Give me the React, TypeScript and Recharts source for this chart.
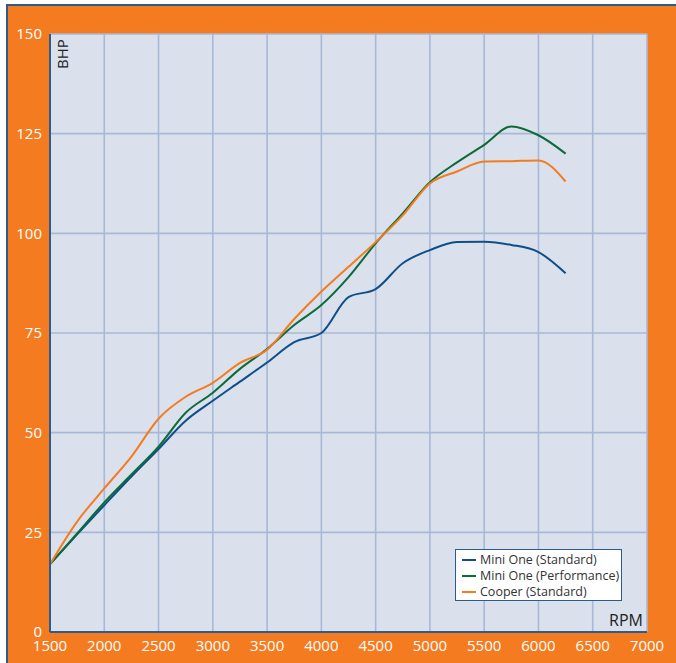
import React from "react";
import { LineChart, Line, XAxis, YAxis, CartesianGrid } from "recharts";

const rpm = [1500, 1750, 2000, 2250, 2500, 2750, 3000, 3250, 3500, 3750, 4000, 4250, 4500, 4750, 5000, 5250, 5500, 5750, 6000, 6250];
const miniOneStandard = [17, 24.5, 31.8, 39, 45.9, 53, 58, 62.8, 67.6, 72.7, 75, 84, 86, 92.5, 95.8, 97.8, 97.9, 97.1, 95.3, 90];
const miniOnePerformance = [17, 24.7, 32.5, 39.5, 46.5, 55, 60, 66, 71, 77, 82, 89, 97.5, 105, 112.8, 117.8, 122.2, 126.8, 124.6, 120];
const cooperStandard = [17, 27.7, 36, 44, 53.5, 59, 62.5, 67.5, 70.8, 78.5, 85.4, 91.6, 97.8, 104.5, 112.5, 115.5, 118, 118.1, 118.3, 113];

const xTicks = [1500, 2000, 2500, 3000, 3500, 4000, 4500, 5000, 5500, 6000, 6500, 7000];
const yTicks = [0, 25, 50, 75, 100, 125, 150];

const seriesNames = ["Mini One (Standard)", "Mini One (Performance)", "Cooper (Standard)"];
const seriesColors = ["#0d4f8b", "#0b6b3a", "#f47c20"];

const data = rpm.map((r, i) => ({
  rpm: r,
  s0: miniOneStandard[i],
  s1: miniOnePerformance[i],
  s2: cooperStandard[i],
}));

const FONT = "'Open Sans', 'Noto Sans', sans-serif";
const FRAME = "#2b5c8c";

function ChartLegend() {
  return (
    <div
      style={{
        position: "absolute",
        left: 455,
        top: 549,
        boxSizing: "border-box",
        width: 167,
        height: 52,
        background: "#ffffff",
        border: `1.5px solid ${FRAME}`,
        padding: "2px 0 0 6px",
        fontFamily: FONT,
        fontSize: 12.5,
        color: "#333",
        lineHeight: "16px",
      }}
    >
      {seriesNames.map((n, i) => (
        <div key={n} style={{ display: "flex", alignItems: "center" }}>
          <span style={{ display: "inline-block", width: 14, height: 2.5, background: seriesColors[i], marginRight: 4 }} />
          <span>{n}</span>
        </div>
      ))}
    </div>
  );
}

export default function App() {
  return (
    <div style={{ position: "absolute", left: 0, top: 0, width: 676, height: 663, background: "#ffffff" }}>
      <div
        style={{
          position: "absolute",
          left: 6,
          top: 4,
          width: 670,
          height: 659,
          boxSizing: "border-box",
          background: "#f47b20",
          borderTop: `2px solid ${FRAME}`,
          borderLeft: `2px solid ${FRAME}`,
        }}
      />
      <div style={{ position: "absolute", left: 0, top: 0 }}>
        <LineChart width={676} height={663} data={data} margin={{ top: 34, right: 29, bottom: 6, left: 6 }}>
          <CartesianGrid xAxisId="b" yAxisId="l" fill="#dae0ec" stroke="#a8b9d7" strokeWidth={1.6} />
          <XAxis
            xAxisId="b"
            dataKey="rpm"
            type="number"
            domain={[1500, 7000]}
            ticks={xTicks}
            interval={0}
            height={25}
            tickLine={false}
            axisLine={{ stroke: FRAME, strokeWidth: 2 }}
            tick={{ fill: "#ffffff", fontSize: 15, fontFamily: FONT }}
          />
          <XAxis
            xAxisId="t"
            orientation="top"
            dataKey="rpm"
            type="number"
            domain={[1500, 7000]}
            ticks={xTicks}
            height={0}
            tick={false}
            tickLine={false}
            axisLine={{ stroke: FRAME, strokeWidth: 2 }}
          />
          <YAxis
            yAxisId="l"
            type="number"
            domain={[0, 150]}
            ticks={yTicks}
            interval={0}
            width={44}
            tickLine={false}
            axisLine={{ stroke: FRAME, strokeWidth: 2 }}
            tick={{ fill: "#ffffff", fontSize: 15, fontFamily: FONT }}
          />
          <YAxis
            yAxisId="r"
            orientation="right"
            type="number"
            domain={[0, 150]}
            ticks={yTicks}
            width={0}
            tick={false}
            tickLine={false}
            axisLine={{ stroke: FRAME, strokeWidth: 2 }}
          />
          {["s0", "s1", "s2"].map((k, i) => (
            <Line
              key={k}
              xAxisId="b"
              yAxisId="l"
              type="monotone"
              dataKey={k}
              name={seriesNames[i]}
              stroke={seriesColors[i]}
              strokeWidth={2}
              dot={false}
              activeDot={false}
              isAnimationActive={false}
            />
          ))}
        </LineChart>
      </div>
      <ChartLegend />
      <div
        style={{
          position: "absolute",
          left: 62,
          top: 54,
          transform: "translate(-50%, -50%) rotate(-90deg)",
          fontFamily: FONT,
          fontSize: 15,
          color: "#222",
          whiteSpace: "nowrap",
          lineHeight: "16px",
        }}
      >
        BHP
      </div>
      <div
        style={{
          position: "absolute",
          left: 609,
          top: 611,
          fontFamily: FONT,
          fontSize: 16,
          color: "#222",
          whiteSpace: "nowrap",
          lineHeight: "18px",
        }}
      >
        RPM
      </div>
    </div>
  );
}
